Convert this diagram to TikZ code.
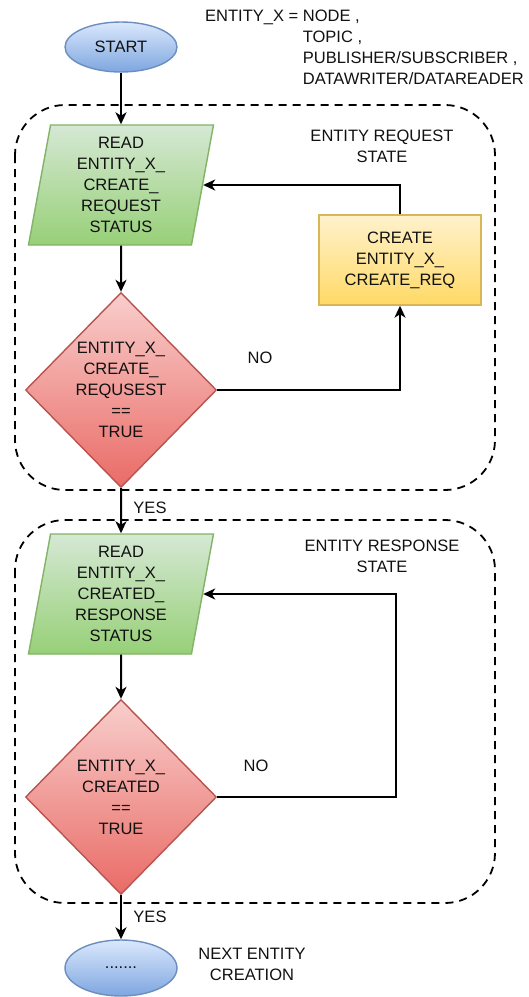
\documentclass[tikz,border=0pt]{standalone}
\usepackage{fontspec}
\setmainfont{Liberation Sans}
\usetikzlibrary{shapes.geometric,arrows.meta}

\definecolor{bluetop}{HTML}{DAE8FC}
\definecolor{bluebot}{HTML}{7EA6E0}
\definecolor{blueline}{HTML}{6C8EBF}
\definecolor{greentop}{HTML}{D5E8D4}
\definecolor{greenbot}{HTML}{97D077}
\definecolor{greenline}{HTML}{82B366}
\definecolor{redtop}{HTML}{F8CECC}
\definecolor{redbot}{HTML}{EA6B66}
\definecolor{redline}{HTML}{B85450}
\definecolor{yellowtop}{HTML}{FFF2CC}
\definecolor{yellowbot}{HTML}{FFD966}
\definecolor{yellowline}{HTML}{D6B656}
\definecolor{ink}{HTML}{111111}

\tikzset{
  txt/.style={font=\fontsize{16.5}{21}\selectfont, align=center, text=ink},
  term/.style={ellipse, txt, draw=blueline, line width=1.4pt,
    top color=bluetop, bottom color=bluebot, inner sep=0pt,
    minimum width=112pt, minimum height=50pt},
  io/.style={trapezium, trapezium left angle=77, trapezium right angle=103,
    trapezium stretches body, txt, draw=greenline, line width=1.4pt,
    top color=greentop, bottom color=greenbot, inner sep=0pt,
    minimum width=185pt, minimum height=120pt},
  decision/.style={diamond, txt, draw=redline, line width=1.4pt,
    top color=redtop, bottom color=redbot, inner sep=0pt,
    minimum width=191pt, minimum height=195pt},
  process/.style={rectangle, txt, draw=yellowline, line width=1.4pt,
    top color=yellowtop, bottom color=yellowbot, inner sep=0pt,
    minimum width=162pt, minimum height=90pt},
  group/.style={draw=black, line width=1.8pt, dash pattern=on 8pt off 6pt,
    rounded corners=50pt},
  flow/.style={draw=black, line width=2pt,
    -{Stealth[length=12pt,width=11pt,inset=3.5pt]}},
  lbl/.style={txt, inner sep=0pt}
}

\begin{document}
\begin{tikzpicture}[x=1pt,y=-1pt]
  \useasboundingbox[fill=white] (0,0) rectangle (528,997);

  % state groups
  \draw[group] (15,105) rectangle (495,490);
  \draw[group] (15,520) rectangle (495,903);
  \node[lbl] (reqstate) at (382,146) {ENTITY REQUEST\\STATE};
  \node[lbl] (resstate) at (382,556) {ENTITY RESPONSE\\STATE};

  % legend for the entity placeholder
  \node[lbl, align=left, anchor=west] (legend) at (205,48.5)
    {ENTITY\_X = NODE ,\\
     \phantom{ENTITY\_X = }TOPIC ,\\
     \phantom{ENTITY\_X = }PUBLISHER/SUBSCRIBER ,\\
     \phantom{ENTITY\_X = }DATAWRITER/DATAREADER};

  % request phase
  \node[term] (start) at (121,47) {START};
  \node[io] (readreq) at (121,185) {READ\\ENTITY\_X\_\\CREATE\_\\REQUEST\\STATUS};
  \node[process] (createreq) at (400,260) {CREATE\\ENTITY\_X\_\\CREATE\_REQ};
  \node[decision] (checkreq) at (121,390) {ENTITY\_X\_\\CREATE\_\\REQUSEST\\==\\TRUE};

  % response phase
  \node[io] (readres) at (121,594) {READ\\ENTITY\_X\_\\CREATED\_\\RESPONSE\\STATUS};
  \node[decision] (checkres) at (121,797) {ENTITY\_X\_\\CREATED\\==\\TRUE};
  \node[term, minimum height=56pt] (next) at (121,968) {.......};
  \node[lbl] (nextlbl) at (252,964) {NEXT ENTITY\\CREATION};

  % connectors
  \draw[flow] (start) -- (readreq);
  \draw[flow] (readreq) -- (checkreq);
  \draw[flow] (checkreq.east) -| (createreq.south);
  \draw[flow] (createreq.north) |- (readreq.east);
  \draw[flow] (checkreq.south) -- (readres.north);
  \draw[flow] (readres) -- (checkres);
  \draw[flow] (checkres.east) -- ++(179,0) |- (readres.east);
  \draw[flow] (checkres.south) -- (next.north);

  % branch labels
  \node[lbl] (noreq) at (260,358) {NO};
  \node[lbl] (nores) at (256,766) {NO};
  \node[lbl] (yesreq) at (150,508) {YES};
  \node[lbl] (yesres) at (150,917) {YES};
\end{tikzpicture}
\end{document}
